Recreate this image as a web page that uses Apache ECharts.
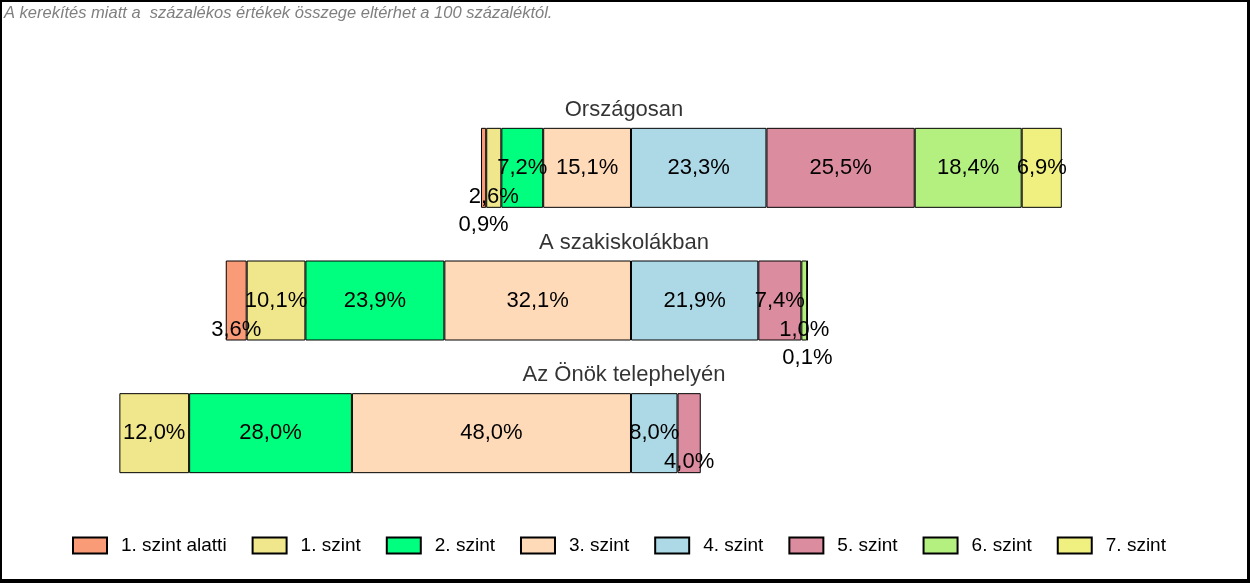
<!DOCTYPE html>
<html>
<head>
<meta charset="utf-8">
<script src="https://cdn.jsdelivr.net/npm/echarts@6/dist/echarts.min.js"></script>
<style>
html,body{margin:0;padding:0;background:#fff;}
#chart{width:1250px;height:583px;}
</style>
</head>
<body>
<div id="chart"></div>
<script>
// ---- data ----
const categories = ['Országosan', 'A szakiskolákban', 'Az Önök telephelyén'];
const levelNames = ['1. szint alatti', '1. szint', '2. szint', '3. szint', '4. szint', '5. szint', '6. szint', '7. szint'];
const level0 = [0.9, 3.6, 0];     // 1. szint alatti
const level1 = [2.6, 10.1, 12.0]; // 1. szint
const level2 = [7.2, 23.9, 28.0]; // 2. szint
const level3 = [15.1, 32.1, 48.0];// 3. szint
const level4 = [23.3, 21.9, 8.0]; // 4. szint
const level5 = [25.5, 7.4, 4.0];  // 5. szint
const level6 = [18.4, 1.0, 0];    // 6. szint
const level7 = [6.9, 0.1, 0];     // 7. szint
const note = 'A kerekítés miatt a  százalékos értékek összege eltérhet a 100 százaléktól.';

const levels = [level0, level1, level2, level3, level4, level5, level6, level7];
const colors = ['#FA9B78', '#F0E68C', '#00FF7F', '#FFDAB9', '#ADD8E6', '#DC8C9F', '#B4F080', '#F0F080'];

// label offset for small segments, counted outward from the centre line
function offsetsFor(order) {
  const res = {};
  for (let r = 0; r < categories.length; r++) {
    let k = 0;
    order.forEach(li => {
      const v = levels[li][r];
      if (v > 0 && v < 5) { k++; res[li + '_' + r] = k === 1 ? 29 : 57; }
    });
  }
  return res;
}
const offs = Object.assign({}, offsetsFor([3, 2, 1, 0]), offsetsFor([4, 5, 6, 7]));

function fmt(v) { return Math.abs(v).toFixed(1).replace('.', ',') + '%'; }

const seriesOrder = [3, 2, 1, 0, 4, 5, 6, 7];
const series = seriesOrder.map(li => {
  const sign = li <= 3 ? -1 : 1;
  return {
    name: levelNames[li],
    type: 'bar',
    stack: 'total',
    barWidth: 80,
    itemStyle: { color: colors[li], borderColor: '#000', borderWidth: 1 },
    label: {
      show: true, position: 'inside', color: '#000',
      fontFamily: 'Liberation Sans', fontSize: 22,
      formatter: p => fmt(p.value)
    },
    data: levels[li].map((v, r) => {
      if (!v) return { value: null, label: { show: false } };
      const o = offs[li + '_' + r];
      const item = { value: sign * v };
      if (o) item.label = { offset: [0, o] };
      return item;
    })
  };
});

// row titles
series.push({
  type: 'scatter',
  symbolSize: 0,
  silent: true,
  data: categories.map(c => [-1.2, c]),
  label: {
    show: true, position: 'inside', offset: [0, -58],
    formatter: p => p.value[1],
    color: '#000', fontFamily: 'Liberation Sans', fontSize: 22
  },
  z: 5
});

const chart = echarts.init(document.getElementById('chart'), null, { renderer: 'canvas' });
chart.setOption({
  animation: false,
  backgroundColor: '#fff',
  grid: { left: 0, right: 0, top: 101.5, height: 398, containLabel: false },
  xAxis: {
    type: 'value', min: -108.53, max: 106.47,
    show: false
  },
  yAxis: {
    type: 'category', data: categories, inverse: true, show: false
  },
  legend: {
    data: levelNames,
    left: 67,
    top: 531,
    itemWidth: 34,
    itemHeight: 16,
    itemGap: 25,
    icon: 'rect',
    textStyle: { fontFamily: 'Liberation Sans', fontSize: 19, color: '#000', padding: [0, 0, 0, 9] }
  },
  graphic: [
    { type: 'text', left: 4, top: 5, style: { text: note, fill: '#7f7f7f', font: 'italic 16.5px "Liberation Sans"' } },
    { type: 'rect', shape: { x: 0, y: 0, width: 1250, height: 2 }, style: { fill: '#000' } },
    { type: 'rect', shape: { x: 0, y: 0, width: 2, height: 583 }, style: { fill: '#000' } },
    { type: 'rect', shape: { x: 1247, y: 0, width: 3, height: 583 }, style: { fill: '#000' } },
    { type: 'rect', shape: { x: 0, y: 579, width: 1250, height: 4 }, style: { fill: '#000' } }
  ],
  series: series
});
</script>
</body>
</html>
